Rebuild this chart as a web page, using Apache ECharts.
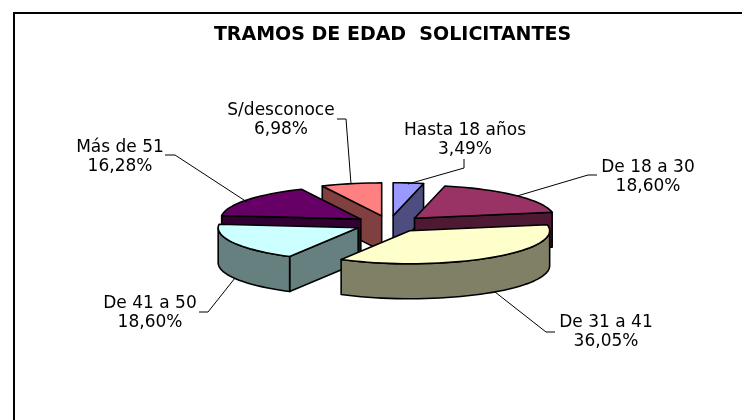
<!DOCTYPE html>
<html><head><meta charset="utf-8">
<style>html,body{margin:0;padding:0;background:#fff}#c{width:742px;height:420px}</style>
<script src="https://cdn.jsdelivr.net/npm/echarts@6/dist/echarts.min.js"></script>
</head><body><div id="c"></div>
<script>
// Data
const categories = ['Hasta 18 años','De 18 a 30','De 31 a 41','De 41 a 50','Más de 51','S/desconoce'];
const counts = [3,16,31,16,14,6];

// Styles and layout
const topColors  = ['#9999FF','#993366','#FFFFCC','#CCFFFF','#660066','#FF8080'];
const sideColors = ['#4D4D80','#4D1933','#808066','#668080','#330033','#804040'];
const paintOrder = [5,0,1,4,3,2];
const labelCenters = [[465,130],[648,167],[606,322],[150,303],[120,147],[281,110]];
const leaders = [
  [[464,159],[464,168],[408,184]],
  [[597,175],[588,175],[517,196]],
  [[555,332],[546,332],[495,292]],
  [[199,312],[208,312],[235,278]],
  [[165,155],[175,155],[247,202]],
  [[337,119],[346,119],[351,184]]
];
const C = {cx:389.3, cy:224, rx:140, ry:33, depth:35, explodeX:35, explodeY:8.3};
const FONT = '"DejaVu Sans", Verdana, sans-serif';

const total = counts.reduce((a,b)=>a+b,0);
const rad = d => d*Math.PI/180;
const starts = []; counts.reduce((acc,v,i)=>{starts[i]=acc; return acc+v/total*360;},0);
const pct = v => (v/total*100).toFixed(2).replace('.',',')+'%';

function renderSlice(params, api){
  const i = api.value(0), v = counts[i];
  const a1 = starts[i], a2 = a1 + v/total*360, mid = (a1+a2)/2;
  const tx = C.cx + C.explodeX*Math.sin(rad(mid));
  const ty = C.cy - C.explodeY*Math.cos(rad(mid));
  const rim = a => [tx + C.rx*Math.sin(rad(a)), ty - C.ry*Math.cos(rad(a))];
  const down = p => [p[0], p[1]+C.depth];
  const arc = (s,e) => { const n = Math.max(2,Math.ceil((e-s)/3)), o=[];
    for(let k=0;k<=n;k++) o.push(rim(s+(e-s)*k/n)); return o; };
  const tip = [tx,ty];
  const poly = (pts,fill) => ({type:'polygon',shape:{points:pts},
    style:{fill,stroke:'#000',lineWidth:1.6,lineJoin:'round'}});
  const children = [];
  if(Math.sin(rad(a1))<0){ const p=rim(a1); children.push(poly([tip,p,down(p),down(tip)],sideColors[i])); }
  if(Math.sin(rad(a2))>0){ const p=rim(a2); children.push(poly([tip,p,down(p),down(tip)],sideColors[i])); }
  const s=Math.max(a1,90), e=Math.min(a2,270);
  if(e>s){ const t=arc(s,e); children.push(poly(t.concat(t.map(down).reverse()),sideColors[i])); }
  children.push(poly([tip].concat(arc(a1,a2)),topColors[i]));
  children.push({type:'polyline',shape:{points:leaders[i]},style:{fill:null,stroke:'#000',lineWidth:1},z2:50});
  children.push({type:'text',z2:60,style:{
    text:categories[i]+'\n'+pct(v),x:labelCenters[i][0],y:labelCenters[i][1]-8.5,
    align:'center',verticalAlign:'top',font:'17px '+FONT,lineHeight:19,fill:'#000'}});
  return {type:'group',children};
}

const chart = echarts.init(document.getElementById('c'),null,{renderer:'canvas'});
chart.setOption({
  animation:false,
  backgroundColor:'#fff',
  title:{text:'TRAMOS DE EDAD  SOLICITANTES',left:387.5,top:21,textAlign:'center',
    textStyle:{fontFamily:FONT,fontWeight:'bold',fontSize:19,color:'#000'}},
  graphic:[{type:'polyline',shape:{points:[[14,422],[14,13],[744,13]]},
    style:{fill:null,stroke:'#000',lineWidth:2},silent:true}],
  series:[{type:'custom',coordinateSystem:'none',renderItem:renderSlice,
    data:paintOrder.map(i=>[i]),silent:true,clip:false}]
});
</script></body></html>
